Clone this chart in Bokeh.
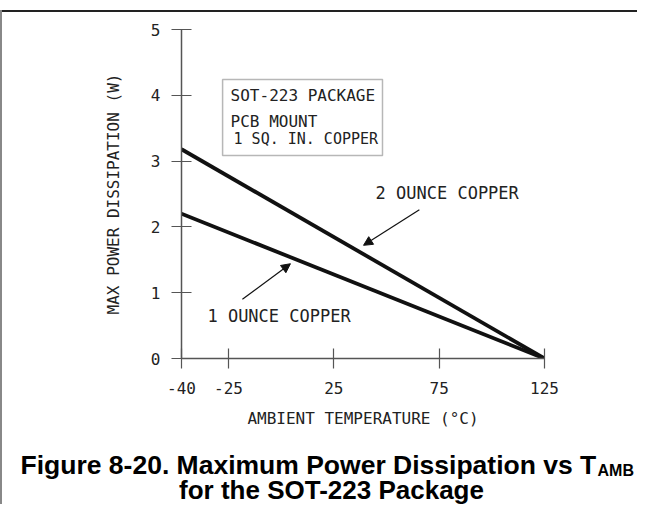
from bokeh.plotting import figure
from bokeh.layouts import column, row
from bokeh.models import FixedTicker, Label, Arrow, NormalHead, BoxAnnotation, Spacer
from bokeh.embed import file_html
from bokeh.resources import INLINE

# ---- data ----
temps = [-40, 125]                 # ambient temperature (°C)
power_2oz = [3.18, 0.0]            # 2 ounce copper (W)
power_1oz = [2.20, 0.0]            # 1 ounce copper (W)
x_ticks = [-40, -25, 25, 75, 125]
x_tick_labels = ["-40", "-25", "25", "75", "125"]
y_ticks = [0, 1, 2, 3, 4, 5]
y_tick_labels = ["0", "1", "2", "3", "4", "5"]

# the drawing's temperature axis is stretched below -25 °C
BREAK = -25.0
STRETCH = 1.487
def ax(t):
    return float(t) if t >= BREAK else BREAK + (t - BREAK) * STRETCH

CAD = "DejaVu Sans Mono, Liberation Mono, monospace"
INK = "#222222"
AXC = "#555555"
CAPF = "Liberation Sans, Arial, sans-serif"

W = 635
p = figure(frame_width=363, frame_height=329, output_backend="svg", toolbar_location=None,
           x_range=(ax(-40), 125), y_range=(0, 5),
           min_border_left=179, min_border_right=93,
           min_border_top=17, min_border_bottom=86)
p.frame_align = False
p.title.visible = False
p.grid.visible = False
p.outline_line_color = None
p.background_fill_color = "white"
p.border_fill_color = "white"

xs = [ax(t) for t in temps]
p.line(xs, power_2oz, line_width=3.8, line_color="#111111")
p.line(xs, power_1oz, line_width=3.8, line_color="#111111")

# axes
xa = p.xaxis[0]
xa.ticker = FixedTicker(ticks=[ax(t) for t in x_ticks])
xa.major_label_overrides = {ax(t): lab for t, lab in zip(x_ticks, x_tick_labels)}
xa.axis_label = "AMBIENT TEMPERATURE (°C)"
ya = p.yaxis[0]
ya.ticker = FixedTicker(ticks=y_ticks)
ya.major_label_overrides = {t: lab for t, lab in zip(y_ticks, y_tick_labels)}
ya.axis_label = "MAX POWER DISSIPATION (W)"
for a in (xa, ya):
    a.axis_line_color = AXC
    a.axis_line_width = 1.5
    a.major_tick_line_color = AXC
    a.major_tick_line_width = 1.2
    a.major_tick_in = 10
    a.major_tick_out = 10
    a.minor_tick_line_color = None
    a.major_label_text_font = CAD
    a.major_label_text_font_size = "16px"
    a.major_label_text_color = INK
    a.axis_label_text_font = CAD
    a.axis_label_text_font_size = "16px"
    a.axis_label_text_font_style = "normal"
    a.axis_label_text_color = INK
xa.major_label_standoff = 13
ya.major_label_standoff = 11
xa.axis_label_standoff = 12
ya.axis_label_standoff = 25

# info box
p.add_layout(BoxAnnotation(left=-27.8, right=48.1, bottom=3.085, top=4.24,
                           fill_color=None, line_color="#111111", line_width=1.5))
for txt, x, y, fs in [("SOT-223 PACKAGE", -24.0, 4.00, "16px"),
                      ("PCB MOUNT", -24.0, 3.60, "16px"),
                      ("1 SQ. IN. COPPER", -22.6, 3.33, "15px")]:
    p.add_layout(Label(x=x, y=y, text=txt, text_font=CAD, text_font_size=fs,
                       text_color=INK, text_baseline="middle", text_align="left"))

# callouts
p.add_layout(Label(x=44.8, y=2.51, text="2 OUNCE COPPER", text_font=CAD,
                   text_font_size="17px", text_color=INK, text_baseline="middle"))
p.add_layout(Label(x=-35.0, y=0.65, text="1 OUNCE COPPER", text_font=CAD,
                   text_font_size="17px", text_color=INK, text_baseline="middle"))
for x0, y0, x1, y1 in [(65.6, 2.26, 39.1, 1.72), (-18.4, 0.90, 4.4, 1.44)]:
    p.add_layout(Arrow(x_start=x0, y_start=y0, x_end=x1, y_end=y1,
                       line_color="#111111", line_width=1.2,
                       end=NormalHead(size=9, fill_color="#111111", line_color="#111111")))

# caption strip (y measured downward from the strip's top edge)
CH = 60
cap = figure(width=W, height=CH, output_backend="svg", toolbar_location=None,
             x_range=(0, W), y_range=(CH, 0),
             min_border_left=0, min_border_right=0, min_border_top=0, min_border_bottom=0)
cap.frame_align = False
cap.title.visible = False
cap.axis.visible = False
cap.grid.visible = False
cap.outline_line_color = None
cap.border_fill_color = "white"
cap.add_layout(Label(x=18, y=20, text="Figure 8-20. Maximum Power Dissipation vs T",
                     text_font=CAPF, text_font_style="bold", text_font_size="26.5px",
                     text_color="#000000", text_baseline="alphabetic", text_align="left"))
cap.add_layout(Label(x=595, y=26, text="AMB",
                     text_font=CAPF, text_font_style="bold", text_font_size="16px",
                     text_color="#000000", text_baseline="alphabetic", text_align="left"))
cap.add_layout(Label(x=329, y=45, text="for the SOT-223 Package",
                     text_font=CAPF, text_font_style="bold", text_font_size="26px",
                     text_color="#000000", text_baseline="alphabetic", text_align="center"))

# page frame lines of the original document
top_gap = Spacer(width=W, height=10)
top_rule = Spacer(width=W, height=2, styles={"background-color": "#222222"})
left_gap = Spacer(width=2, height=10)
left_rule = Spacer(width=2, height=494, styles={"background-color": "#888888"})

page = row(column(left_gap, left_rule, spacing=0),
           column(top_gap, top_rule, p, cap, spacing=0),
           spacing=0)

open("out.html", "w").write(file_html(page, INLINE))
